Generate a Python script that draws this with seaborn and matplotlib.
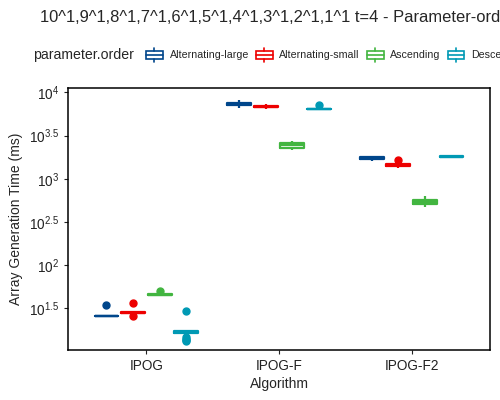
import numpy as np
import pandas as pd
import matplotlib
matplotlib.use("Agg")
import matplotlib.pyplot as plt
from matplotlib.legend_handler import HandlerBase
from matplotlib.patches import Rectangle, Patch
from matplotlib.lines import Line2D
import seaborn as sns

# array generation times (ms) per algorithm and parameter order
algorithms = ["IPOG", "IPOG-F", "IPOG-F2"]
orders = ["Alternating-large", "Alternating-small", "Ascending", "Descending"]
colors = ["#00468B", "#ED0000", "#42B540", "#0099B4"]

ipog_alt_large = [25.4, 25.7, 25.9, 26.0, 26.2, 25.9, 34.7]
ipog_alt_small = [25.9, 27.8, 28.1, 28.4, 28.6, 28.9, 36.3]
ipog_ascending = [45.3, 45.5, 45.7, 45.9, 46.1, 50.1]
ipog_descending = [13.3, 13.7, 14.2, 14.8, 16.5, 16.6, 16.7, 16.8, 16.9, 17.0,
                   17.0, 17.0, 17.1, 17.2, 17.3, 17.4, 17.5, 17.6, 29.7]

ipogf_alt_large = [6668, 7000, 7150, 7295, 7450, 7586, 8100]
ipogf_alt_small = [6450, 6650, 6780, 6855, 6930, 7000, 7250]
ipogf_ascending = [2168, 2240, 2300, 2432, 2520, 2600, 2742]
ipogf_descending = [6350, 6400, 6440, 6457, 6480, 6520, 7079]

ipogf2_alt_large = [1622, 1700, 1740, 1762, 1785, 1810]
ipogf2_alt_small = [1349, 1400, 1430, 1459, 1480, 1510, 1660]
ipogf2_ascending = [466, 500, 520, 537, 560, 580, 627]
ipogf2_descending = [1750, 1775, 1790, 1800, 1815, 1830, 1850]

groups = {
    ("IPOG", "Alternating-large"): ipog_alt_large,
    ("IPOG", "Alternating-small"): ipog_alt_small,
    ("IPOG", "Ascending"): ipog_ascending,
    ("IPOG", "Descending"): ipog_descending,
    ("IPOG-F", "Alternating-large"): ipogf_alt_large,
    ("IPOG-F", "Alternating-small"): ipogf_alt_small,
    ("IPOG-F", "Ascending"): ipogf_ascending,
    ("IPOG-F", "Descending"): ipogf_descending,
    ("IPOG-F2", "Alternating-large"): ipogf2_alt_large,
    ("IPOG-F2", "Alternating-small"): ipogf2_alt_small,
    ("IPOG-F2", "Ascending"): ipogf2_ascending,
    ("IPOG-F2", "Descending"): ipogf2_descending,
}

rows = []
for (alg, order), vals in groups.items():
    for v in vals:
        rows.append({"Algorithm": alg, "parameter.order": order, "time": v})
df = pd.DataFrame(rows)

sns.set_theme(style="ticks")
plt.rcParams["font.family"] = ["Liberation Sans", "DejaVu Sans"]
plt.rcParams["mathtext.default"] = "regular"

fig = plt.figure(figsize=(5, 4), dpi=100)
ax = fig.add_axes([68 / 500, 1 - 350 / 400, 422 / 500, 262 / 400])

sns.boxplot(data=df, x="Algorithm", y="time", hue="parameter.order",
            order=algorithms, hue_order=orders, palette=colors,
            fill=False, width=0.8, gap=0.1, linewidth=1.6, log_scale=True,
            capprops={"linewidth": 0},
            flierprops={"marker": "o", "markersize": 5},
            legend=False, ax=ax)

for ln in ax.lines:
    if ln.get_marker() not in (None, "", "None"):
        ln.set_markerfacecolor(ln.get_markeredgecolor())

ax.set_xlim(-0.59, 2.59)
ax.set_ylim(10 ** 1.02, 10 ** 4.05)
ticks = [1.5, 2, 2.5, 3, 3.5, 4]
ax.set_yticks([10 ** t for t in ticks])
ax.set_yticklabels([r"$10^{%g}$" % t for t in ticks])
ax.yaxis.set_minor_locator(matplotlib.ticker.NullLocator())
ax.tick_params(labelsize=9.8, length=3, width=0.8, colors="#222222")
for s in ax.spines.values():
    s.set_visible(True)
    s.set_linewidth(1.1)
    s.set_color("black")

ax.set_xlabel("Algorithm", fontsize=10, labelpad=3)
ax.set_ylabel("Array Generation Time (ms)", fontsize=10, labelpad=4)

fig.text(40 / 500, 1 - 18 / 400,
         "10^1,9^1,8^1,7^1,6^1,5^1,4^1,3^1,2^1,1^1 t=4 - Parameter-order",
         fontsize=11.9, va="center", ha="left")
fig.text(33 / 500, 1 - 55 / 400, "parameter.order", fontsize=10.2,
         va="center", ha="left")


class BoxHandler(HandlerBase):
    def create_artists(self, legend, orig_handle, xdescent, ydescent,
                       width, height, fontsize, trans):
        c = orig_handle.get_edgecolor()
        x0, y0 = -xdescent, -ydescent
        lw = 1.2
        rect = Rectangle((x0 + 0.05 * width, y0 + 0.25 * height),
                         0.9 * width, 0.5 * height, facecolor="white",
                         edgecolor=c, linewidth=lw, transform=trans)
        med = Line2D([x0 + 0.05 * width, x0 + 0.95 * width],
                     [y0 + 0.5 * height] * 2, color=c, lw=lw, transform=trans)
        w1 = Line2D([x0 + 0.5 * width] * 2, [y0, y0 + 0.25 * height],
                    color=c, lw=lw, transform=trans)
        w2 = Line2D([x0 + 0.5 * width] * 2,
                    [y0 + 0.75 * height, y0 + height],
                    color=c, lw=lw, transform=trans)
        return [rect, med, w1, w2]


handles = [Patch(edgecolor=c, facecolor="white") for c in colors]
fig.legend(handles, orders, handler_map={Patch: BoxHandler()},
           loc="center left", bbox_to_anchor=(145 / 500, 1 - 55 / 400),
           ncol=4, frameon=False, fontsize=7.7, handlelength=1.75,
           handleheight=1.75, handletextpad=0.55, columnspacing=0.55,
           borderpad=0, borderaxespad=0)

fig.savefig("out.png", dpi=100)
